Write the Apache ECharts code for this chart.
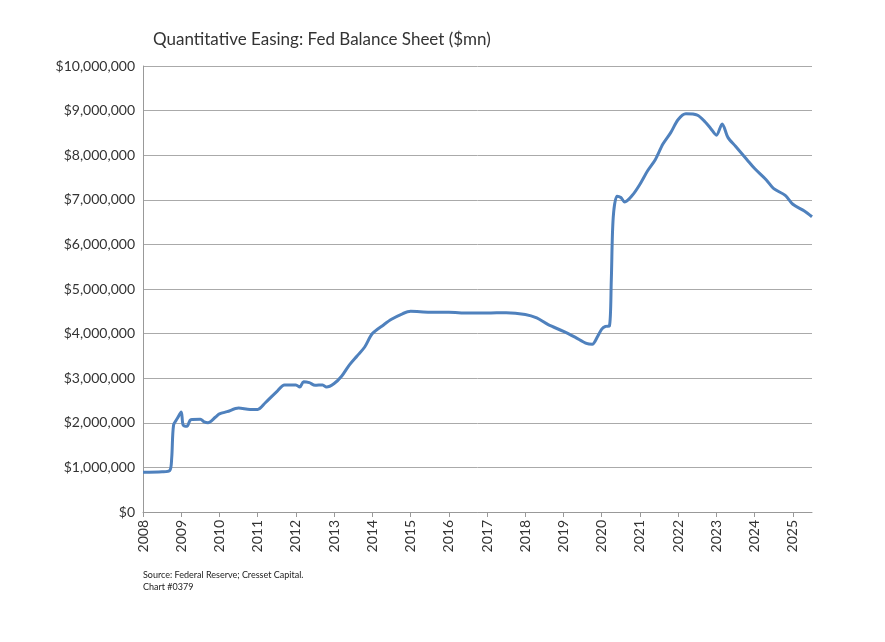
<!DOCTYPE html>
<html><head><meta charset="utf-8">
<script src="https://cdn.jsdelivr.net/npm/echarts@6/dist/echarts.min.js"></script>
<style>html,body{margin:0;padding:0;background:#fff}#c{width:885px;height:642px}</style>
</head><body><div id="c"></div>
<script>
const years = [2008.0,2008.5,2008.7,2008.75,2008.8,2008.9,2009.0,2009.05,2009.15,2009.25,2009.5,2009.6,2009.7,2009.9,2010.0,2010.2,2010.5,2010.8,2011.0,2011.2,2011.5,2011.7,2012.0,2012.1,2012.2,2012.35,2012.5,2012.7,2012.8,2013.0,2013.2,2013.4,2013.6,2013.8,2014.0,2014.3,2014.5,2014.8,2015.0,2015.5,2016.0,2016.5,2017.0,2017.5,2018.0,2018.3,2018.6,2019.0,2019.3,2019.6,2019.75,2019.9,2020.0,2020.1,2020.2,2020.25,2020.3,2020.4,2020.5,2020.6,2020.8,2021.0,2021.2,2021.4,2021.6,2021.8,2022.0,2022.2,2022.5,2022.7,2022.85,2023.0,2023.15,2023.3,2023.5,2023.8,2024.0,2024.3,2024.5,2024.8,2025.0,2025.3,2025.5];
const values = [0.89,0.90,0.93,1.2,1.95,2.1,2.24,1.95,1.92,2.07,2.08,2.02,2.0,2.13,2.2,2.25,2.33,2.3,2.3,2.45,2.7,2.85,2.85,2.8,2.92,2.9,2.84,2.85,2.8,2.88,3.05,3.3,3.5,3.7,4.0,4.2,4.32,4.45,4.5,4.48,4.48,4.46,4.46,4.47,4.43,4.35,4.2,4.05,3.92,3.78,3.76,3.95,4.1,4.16,4.17,5.2,6.6,7.08,7.05,6.95,7.1,7.35,7.65,7.9,8.25,8.5,8.8,8.93,8.9,8.75,8.6,8.45,8.7,8.4,8.2,7.9,7.7,7.45,7.25,7.1,6.9,6.75,6.62].map(v=>v*1e6);
const chart = echarts.init(document.getElementById('c'));
const fmt = v => '$' + Math.round(v).toLocaleString('en-US');
chart.setOption({
  animation:false,
  title:{text:'Quantitative Easing: Fed Balance Sheet ($mn)',left:148,top:26,textStyle:{fontSize:17,fontWeight:'normal',color:'#333',fontFamily:'Lato'}},
  graphic:[{type:'text',left:143,top:569,style:{text:'Source: Federal Reserve; Cresset Capital.\nChart #0379',fontSize:9,lineHeight:12,fill:'#222',fontFamily:'Lato'}}],
  grid:{left:143,right:73,top:66,bottom:130},
  xAxis:{type:'value',min:2008,max:2025.5,interval:1,
    axisLine:{lineStyle:{color:'#999'}},axisTick:{show:true,lineStyle:{color:'#999'}},splitLine:{show:false},
    axisLabel:{rotate:90,showMaxLabel:false,color:'#333',fontSize:14,fontFamily:'Lato',formatter:v=>String(v)}},
  yAxis:{type:'value',min:0,max:10000000,interval:1000000,
    axisLine:{show:true,lineStyle:{color:'#999'}},axisTick:{show:false},
    splitLine:{lineStyle:{color:'#aaa'}},
    axisLabel:{color:'#333',fontSize:14,fontFamily:'Lato',formatter:fmt}},
  series:[{type:'line',showSymbol:false,smooth:0.3,data:years.map((y,i)=>[y,values[i]]),lineStyle:{color:'#4f81bd',width:3}}]
});
</script></body></html>
